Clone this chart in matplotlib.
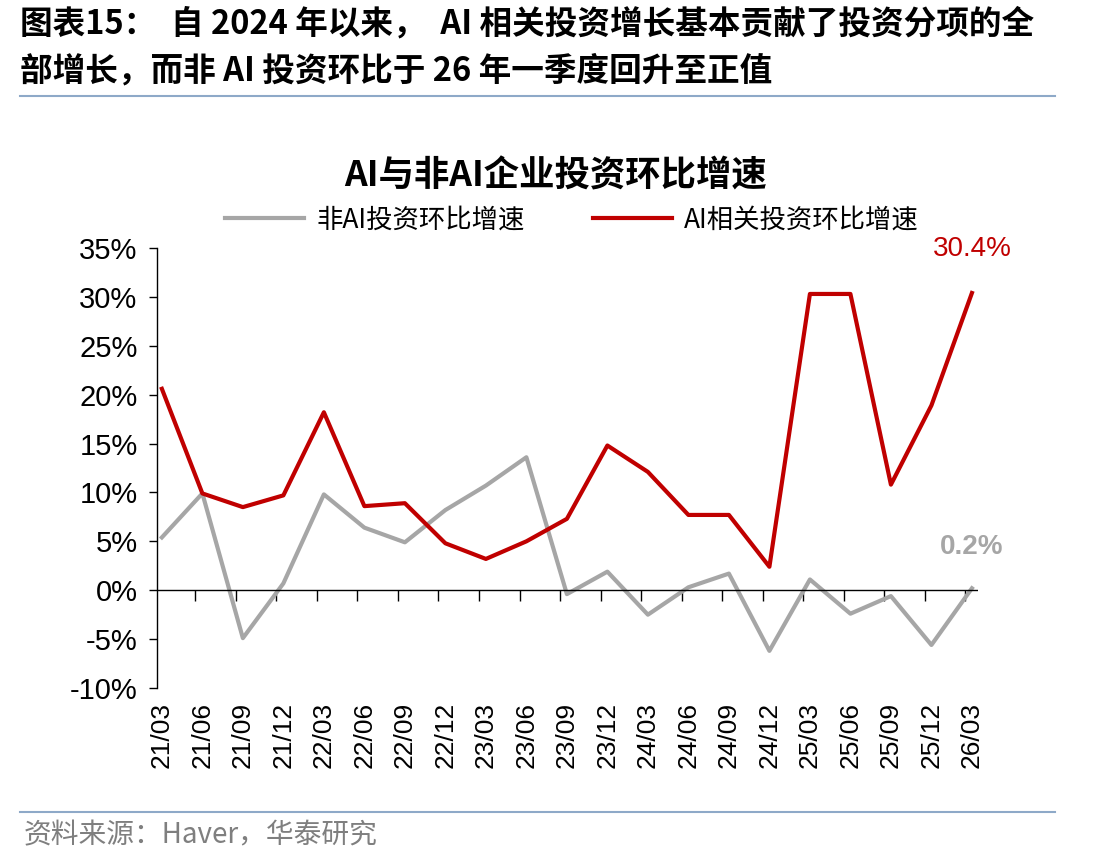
import matplotlib
matplotlib.use("Agg")
import matplotlib.pyplot as plt
import numpy as np

plt.rcParams['font.family'] = ['Noto Sans CJK SC', 'DejaVu Sans']

quarters = ["21/03", "21/06", "21/09", "21/12", "22/03", "22/06", "22/09", "22/12",
            "23/03", "23/06", "23/09", "23/12", "24/03", "24/06", "24/09", "24/12",
            "25/03", "25/06", "25/09", "25/12", "26/03"]
non_ai = [5.4, 9.9, -4.9, 0.7, 9.8, 6.4, 4.9, 8.2, 10.7, 13.6, -0.4, 1.9, -2.5,
          0.3, 1.7, -6.2, 1.1, -2.4, -0.6, -5.6, 0.2]
ai = [20.6, 9.9, 8.5, 9.7, 18.2, 8.6, 8.9, 4.8, 3.2, 5.0, 7.3, 14.8, 12.1,
      7.7, 7.7, 2.4, 30.3, 30.3, 10.8, 18.9, 30.4]

RED = "#C00000"
GRAY = "#A6A6A6"
W, H = 1112, 866

fig = plt.figure(figsize=(W / 100, H / 100), dpi=100)

# header
fig.text(20 / W, 1 - 24 / H, "图表15：  自 2024 年以来，  AI 相关投资增长基本贡献了投资分项的全",
         fontsize=23.5, fontweight="bold", va="center", ha="left")
fig.text(20 / W, 1 - 71 / H, "部增长，而非 AI 投资环比于 26 年一季度回升至正值",
         fontsize=23.5, fontweight="bold", va="center", ha="left")
fig.add_artist(plt.Line2D([20 / W, 1055 / W], [1 - 96 / H, 1 - 96 / H], color="#8EA9C8", lw=1.5))

# footer
fig.add_artist(plt.Line2D([20 / W, 1055 / W], [1 - 812 / H, 1 - 812 / H], color="#8EA9C8", lw=1.5))
fig.text(24 / W, 1 - 835 / H, "资料来源：Haver，华泰研究", fontsize=20, color="#7F7F7F",
         va="center", ha="left")

ax = fig.add_axes([157 / W, 1 - 688 / H, (978 - 157) / W, (688 - 248) / H])
x = np.arange(len(quarters))
ax.plot(x, non_ai, color=GRAY, lw=3, label="非AI投资环比增速")
ax.plot(x, ai, color=RED, lw=3, label="AI相关投资环比增速")

ax.set_xlim(-0.12, 20.15)
ax.set_ylim(-10, 35)
ax.set_yticks(np.arange(-10, 36, 5))
ax.set_yticklabels([f"{v}%" for v in range(-10, 36, 5)], fontsize=21, family=["Liberation Sans"])
ax.tick_params(axis="y", direction="out", length=6, width=1, pad=8)

ax.set_xticks(x)
ax.set_xticklabels(quarters, rotation=90, fontsize=19, family=["Liberation Sans"])
ax.tick_params(axis="x", length=0, pad=10)

for s in ["top", "right", "bottom"]:
    ax.spines[s].set_visible(False)
ax.spines["left"].set_linewidth(1)

ax.axhline(0, color="black", lw=1)
zero_ax = ax.secondary_xaxis(10 / 45)
zero_ax.set_xticks(x[1:] - 0.17)
zero_ax.set_xticklabels([])
zero_ax.tick_params(direction="out", length=8, width=1)
zero_ax.spines["bottom"].set_visible(False)

ax.annotate(f"{ai[-1]}%", (x[-1], ai[-1]), xytext=(0, 32), textcoords="offset points",
            ha="center", va="center", color=RED, fontsize=20, family=["Liberation Sans"])
ax.annotate(f"{non_ai[-1]}%", (x[-1], non_ai[-1]), xytext=(0, 30), textcoords="offset points",
            ha="center", va="center", color=GRAY, fontsize=20, fontweight="bold",
            family=["Liberation Sans"])

fig.text(0.5, 1 - 176 / H, "AI与非AI企业投资环比增速", fontsize=25.5, fontweight="bold",
         ha="center", va="center")
fig.legend(loc="center", bbox_to_anchor=(572 / W, 1 - 220 / H), ncol=2, frameon=False,
           fontsize=19, handlelength=3.0, columnspacing=2.6, handletextpad=0.45)

fig.savefig("out.png", dpi=100)
